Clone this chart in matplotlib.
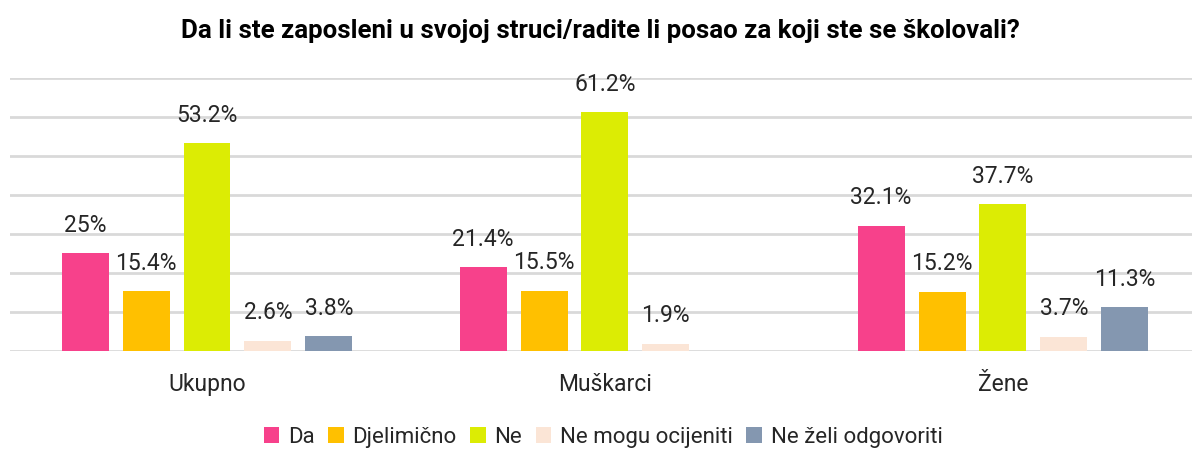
import numpy as np
import matplotlib
matplotlib.use('Agg')
import matplotlib.pyplot as plt

plt.rcParams['font.family'] = ['Roboto', 'DejaVu Sans']

categories = ["Ukupno", "Muškarci", "Žene"]
series_names = ["Da", "Djelimično", "Ne", "Ne mogu ocijeniti", "Ne želi odgovoriti"]
da = [25, 21.4, 32.1]
djelimicno = [15.4, 15.5, 15.2]
ne = [53.2, 61.2, 37.7]
ne_mogu = [2.6, 1.9, 3.7]
ne_zeli = [3.8, np.nan, 11.3]
labels = [["25%", "21.4%", "32.1%"],
          ["15.4%", "15.5%", "15.2%"],
          ["53.2%", "61.2%", "37.7%"],
          ["2.6%", "1.9%", "3.7%"],
          ["3.8%", "", "11.3%"]]
colors = ['#F7418B', '#FFC000', '#DCEC04', '#FBE5D6', '#8497B0']

fig = plt.figure(figsize=(11.92, 4.5), dpi=100)
ax = fig.add_axes([10/1192, 0.22, 1182/1192, 0.607])

x = np.arange(len(categories))
slot = 0.153
width = 0.118
all_series = [da, djelimicno, ne, ne_mogu, ne_zeli]
for i, vals in enumerate(all_series):
    pos = x + (i - 2) * slot
    ax.bar(pos, vals, width, color=colors[i], label=series_names[i], zorder=3)
    for p, v, t in zip(pos, vals, labels[i]):
        if t:
            ax.text(p, v + 4.2, t, ha='center', va='bottom', fontsize=16.5, color='#262626')

ax.set_xlim(-0.495, 2.475)
ax.set_ylim(0, 70)
ax.set_yticks(np.arange(0, 71, 10))
ax.yaxis.grid(True, color='#d9d9d9', linewidth=2, zorder=0)
ax.set_yticklabels([])
ax.tick_params(axis='y', length=0)
ax.tick_params(axis='x', length=0, pad=16, labelsize=16.5, labelcolor='#262626')
ax.set_xticks(x)
ax.set_xticklabels(categories)
for s in ax.spines.values():
    s.set_visible(False)

fig.suptitle("Da li ste zaposleni u svojoj struci/radite li posao za koji ste se školovali?",
             y=0.958, x=0.504, fontsize=18.6, fontweight='bold', color='#000000')

fig.legend(loc='center', bbox_to_anchor=(0.506, 0.028), ncol=5, frameon=False,
           fontsize=16, handlelength=0.7, handleheight=0.7, handletextpad=0.4,
           columnspacing=0.6, labelcolor='#262626')

fig.savefig('out.png', dpi=100)
